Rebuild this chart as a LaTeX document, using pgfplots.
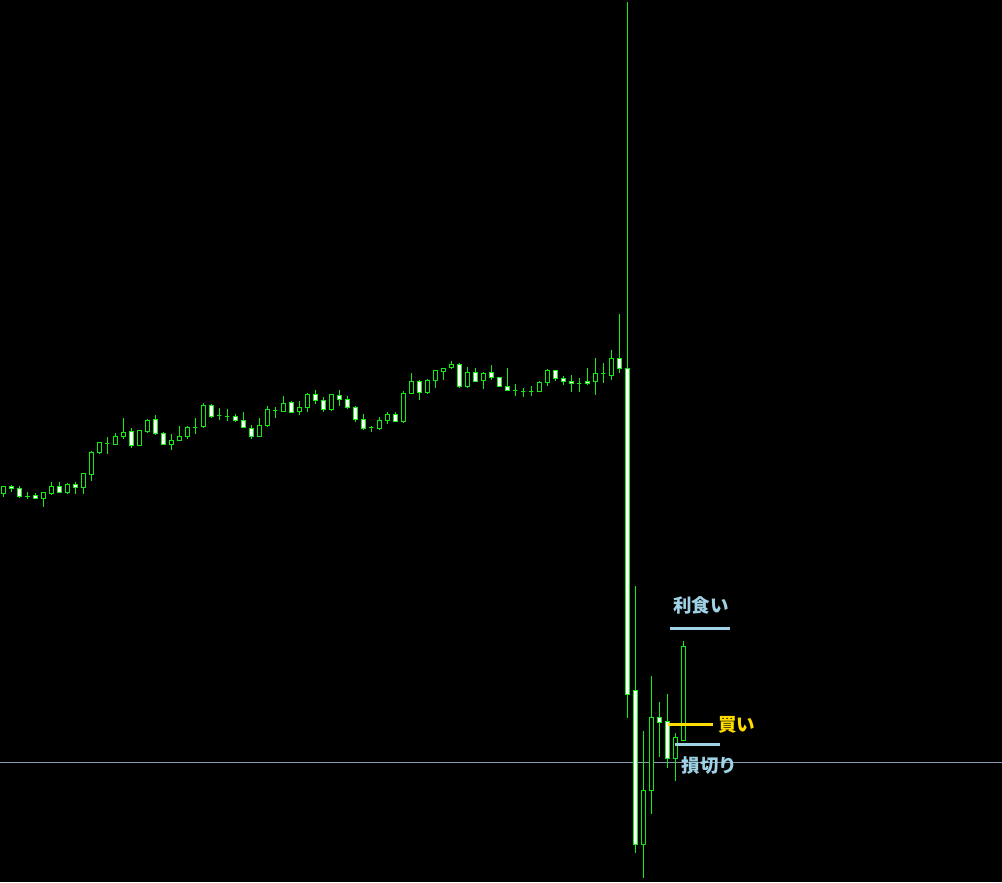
\documentclass[border=0pt]{standalone}
\usepackage{pgfplots}
\usepgfplotslibrary{statistics}
\usepackage{pgfplotstable}
\pgfplotsset{compat=1.18}
\usepackage{fontspec}
\newfontfamily\jp{Noto Sans CJK JP}
\definecolor{cgreen}{RGB}{20,235,20}
\definecolor{lblue}{RGB}{160,210,230}
\definecolor{gline}{RGB}{135,155,180}
\definecolor{cyellow}{RGB}{255,221,0}

\pgfplotstableread{
i o h l c
0 388.3 395.7 385.3 395.7
1 395.7 397.0 390.3 393.7
2 393.7 395.7 384.3 385.0
3 385.7 389.7 383.0 385.7
4 386.0 388.7 383.3 383.3
5 383.0 389.0 375.3 389.0
6 388.0 400.0 387.0 395.0
7 395.0 400.0 389.3 389.3
8 389.3 399.3 388.3 397.0
9 397.0 400.0 388.3 394.3
10 394.3 409.0 388.3 408.3
11 407.3 430.7 401.3 429.7
12 429.3 440.0 428.3 439.0
13 438.3 445.0 428.3 438.3
14 437.3 448.7 437.3 445.7
15 445.3 464.0 443.3 449.7
16 450.7 453.7 434.3 436.3
17 436.3 451.7 436.3 451.7
18 450.3 462.7 449.7 461.7
19 462.7 467.0 447.3 448.3
20 448.7 449.7 437.0 437.7
21 437.7 447.7 432.3 441.3
22 441.7 455.7 440.7 445.7
23 445.3 455.7 442.7 454.7
24 454.7 464.0 447.7 454.7
25 455.7 478.7 453.7 476.7
26 476.7 477.7 464.0 465.7
27 466.3 473.7 462.3 466.3
28 465.3 472.7 461.3 465.3
29 465.7 468.3 460.3 461.3
30 461.7 469.7 454.3 454.3
31 453.7 456.7 443.3 445.3
32 445.3 464.3 445.3 456.7
33 456.3 475.7 455.3 472.7
34 471.7 474.7 464.3 471.7
35 470.3 485.7 470.3 478.7
36 479.7 480.7 469.7 469.7
37 470.3 480.7 467.3 474.7
38 474.3 488.7 470.3 487.7
39 487.7 492.0 477.7 481.7
40 481.7 484.7 470.3 472.7
41 472.3 487.0 471.3 487.0
42 486.7 491.7 476.3 482.3
43 482.7 485.7 473.3 474.3
44 474.7 475.7 460.3 462.3
45 462.7 467.7 452.3 453.3
46 454.3 456.3 450.0 454.3
47 453.3 465.0 452.3 461.7
48 461.3 470.3 458.3 467.7
49 467.7 469.7 460.3 460.3
50 460.3 490.7 459.3 488.7
51 488.3 508.7 488.3 500.7
52 500.7 501.7 482.3 489.3
53 489.3 502.7 488.3 501.7
54 501.3 512.3 494.3 511.7
55 510.3 513.7 502.3 513.7
56 514.7 521.0 513.3 517.0
57 517.0 518.7 494.3 495.3
58 495.3 514.7 494.3 509.7
59 509.7 513.7 500.3 500.3
60 501.3 509.7 493.3 508.7
61 509.7 517.0 502.3 504.7
62 504.7 504.7 495.3 495.3
63 495.7 513.7 491.3 491.3
64 491.3 497.7 486.3 491.3
65 490.3 493.7 485.3 490.3
66 490.3 495.7 486.3 490.3
67 490.3 500.7 490.3 499.7
68 499.7 512.7 496.3 511.7
69 511.7 511.7 500.7 503.7
70 503.7 505.7 496.7 500.7
71 500.7 506.7 489.7 498.7
72 498.3 503.7 489.7 498.3
73 500.7 513.7 496.7 498.7
74 500.7 523.7 486.7 508.7
75 508.3 518.7 498.7 508.3
76 506.7 531.7 501.7 523.7
77 523.7 568.0 508.7 513.7
78 513.7 880.0 164.3 187.7
79 191.7 296.0 29.3 37.7
80 37.7 151.0 4.3 91.7
81 91.7 205.7 68.3 165.0
82 165.0 180.0 125.3 159.7
83 160.3 187.7 114.3 123.7
84 123.7 148.7 101.3 144.7
85 141.3 240.7 141.3 235.7
}\candles

\begin{document}
\begin{tikzpicture}
\begin{axis}[
  width=1002pt, height=882pt, scale only axis,
  xmin=-0.4125, xmax=124.84, ymin=0, ymax=882,
  xtick=\empty, ytick=\empty,
  axis line style={draw=none},
  axis background/.style={fill=black},
  clip=true,
  boxplot/draw direction=y,
  boxplot/box extend=0.55,
  boxplot/whisker extend=0,
]
\addplot[gline, line width=1pt] coordinates {(-1,119.7) (130,119.7)};

\pgfplotsforeachungrouped \k in {0,...,85}{%
  \pgfplotstablegetelem{\k}{o}\of\candles \let\vo\pgfplotsretval
  \pgfplotstablegetelem{\k}{h}\of\candles \let\vh\pgfplotsretval
  \pgfplotstablegetelem{\k}{l}\of\candles \let\vl\pgfplotsretval
  \pgfplotstablegetelem{\k}{c}\of\candles \let\vc\pgfplotsretval
  \pgfmathsetmacro\lq{min(\vo,\vc)}%
  \pgfmathsetmacro\uq{max(\vo,\vc)}%
  \ifdim\vc pt<\vo pt \def\fc{white}\else\def\fc{black}\fi
  \edef\temp{\noexpand\addplot[draw=cgreen, line width=1pt, fill=\fc, solid,
    boxplot prepared={draw position=\k, lower whisker=\vl, lower quartile=\lq,
    median=\lq, upper quartile=\uq, upper whisker=\vh}] coordinates {};}%
  \temp
}

\addplot[lblue, line width=3pt] coordinates {(83.34,253.7) (90.84,253.7)};
\addplot[cyellow, line width=3pt] coordinates {(83.05,157.7) (88.68,157.7)};
\addplot[lblue, line width=3pt] coordinates {(83.96,137.7) (89.59,137.7)};

\node[font=\jp\bfseries\fontsize{18.5}{22}\selectfont, text=lblue] at (axis cs:87.2,277) {利食い};
\node[font=\jp\bfseries\fontsize{18.5}{22}\selectfont, text=cyellow] at (axis cs:91.7,157) {買い};
\node[font=\jp\bfseries\fontsize{18.5}{22}\selectfont, text=lblue] at (axis cs:88.3,116) {損切り};
\end{axis}
\end{tikzpicture}
\end{document}
